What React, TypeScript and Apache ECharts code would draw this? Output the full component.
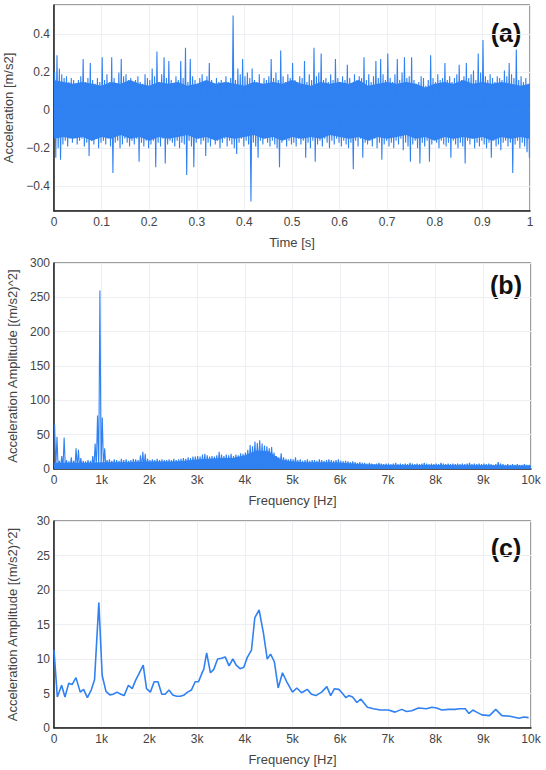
import React, { useEffect, useRef } from "react";
import * as echarts from "echarts";

// ---------- Panel (a): time signal, peak envelope per 5 ms bin ----------
const timeBinWidth = 0.005;
const timeHigh = [
  0.2, 0.29, 0.22, 0.19, 0.17, 0.18, 0.15, 0.17, 0.16, 0.14,
  0.16, 0.18, 0.27, 0.15, 0.17, 0.25, 0.16, 0.14, 0.17, 0.15,
  0.28, 0.16, 0.19, 0.15, 0.28, 0.17, 0.14, 0.2, 0.27, 0.18,
  0.19, 0.16, 0.17, 0.13, 0.16, 0.18, 0.15, 0.14, 0.19, 0.17,
  0.16, 0.22, 0.18, 0.31, 0.15, 0.19, 0.28, 0.17, 0.26, 0.16,
  0.14, 0.18, 0.16, 0.26, 0.17, 0.33, 0.15, 0.27, 0.18, 0.16,
  0.14, 0.17, 0.19, 0.15, 0.18, 0.25, 0.16, 0.14, 0.17, 0.15,
  0.16, 0.13, 0.18, 0.15, 0.17, 0.5, 0.16, 0.22, 0.19, 0.27,
  0.18, 0.2, 0.17, 0.22, 0.16, 0.15, 0.19, 0.14, 0.17, 0.16,
  0.18, 0.27, 0.17, 0.2, 0.16, 0.315, 0.18, 0.15, 0.19, 0.17,
  0.25, 0.16, 0.14, 0.18, 0.17, 0.26, 0.15, 0.19, 0.16, 0.33,
  0.18, 0.2, 0.3, 0.16, 0.17, 0.15, 0.19, 0.16, 0.27, 0.17,
  0.15, 0.18, 0.16, 0.24, 0.17, 0.14, 0.19, 0.16, 0.18, 0.17,
  0.28, 0.16, 0.19, 0.15, 0.18, 0.26, 0.17, 0.27, 0.19, 0.16,
  0.3, 0.17, 0.15, 0.19, 0.27, 0.16, 0.2, 0.28, 0.17, 0.18,
  0.28, 0.16, 0.14, 0.15, 0.18, 0.17, 0.13, 0.16, 0.29, 0.17,
  0.15, 0.19, 0.16, 0.17, 0.25, 0.16, 0.18, 0.15, 0.17, 0.19,
  0.24, 0.16, 0.18, 0.25, 0.17, 0.19, 0.21, 0.16, 0.3, 0.2,
  0.37, 0.18, 0.16, 0.19, 0.17, 0.15, 0.18, 0.17, 0.16, 0.21,
  0.18, 0.25, 0.19, 0.17, 0.32, 0.16, 0.18, 0.15, 0.17, 0.14,
];
const timeLow = [
  -0.25, -0.2, -0.26, -0.18, -0.16, -0.19, -0.15, -0.17, -0.14, -0.18,
  -0.16, -0.15, -0.19, -0.17, -0.24, -0.16, -0.18, -0.15, -0.2, -0.17,
  -0.16, -0.18, -0.15, -0.19, -0.33, -0.17, -0.16, -0.2, -0.18, -0.15,
  -0.17, -0.19, -0.16, -0.18, -0.15, -0.27, -0.17, -0.19, -0.16, -0.2,
  -0.18, -0.16, -0.3, -0.17, -0.19, -0.15, -0.28, -0.18, -0.16, -0.17,
  -0.19, -0.16, -0.2, -0.17, -0.18, -0.34, -0.16, -0.19, -0.3, -0.17,
  -0.15, -0.18, -0.16, -0.24, -0.17, -0.19, -0.15, -0.18, -0.16, -0.2,
  -0.17, -0.15, -0.19, -0.16, -0.18, -0.2, -0.23, -0.17, -0.15, -0.19,
  -0.16, -0.18, -0.48, -0.17, -0.19, -0.25, -0.16, -0.18, -0.15, -0.17,
  -0.19, -0.16, -0.18, -0.2, -0.3, -0.17, -0.15, -0.19, -0.16, -0.18,
  -0.17, -0.19, -0.15, -0.18, -0.16, -0.25, -0.17, -0.2, -0.16, -0.27,
  -0.18, -0.16, -0.19, -0.15, -0.17, -0.2, -0.16, -0.18, -0.15, -0.17,
  -0.19, -0.16, -0.18, -0.2, -0.17, -0.31, -0.16, -0.19, -0.15, -0.25,
  -0.17, -0.18, -0.16, -0.19, -0.15, -0.2, -0.17, -0.26, -0.18, -0.16,
  -0.19, -0.17, -0.2, -0.16, -0.18, -0.15, -0.21, -0.17, -0.19, -0.27,
  -0.18, -0.16, -0.2, -0.28, -0.17, -0.19, -0.16, -0.27, -0.18, -0.15,
  -0.17, -0.2, -0.16, -0.18, -0.19, -0.17, -0.25, -0.16, -0.18, -0.2,
  -0.17, -0.19, -0.28, -0.16, -0.18, -0.15, -0.2, -0.17, -0.19, -0.16,
  -0.18, -0.2, -0.17, -0.25, -0.16, -0.19, -0.18, -0.21, -0.17, -0.16,
  -0.19, -0.17, -0.33, -0.18, -0.16, -0.2, -0.17, -0.19, -0.22, -0.25,
];
// dense core of the signal, sampled every 20 ms (0 .. 1 s)
const timeCoreStep = 0.02;
const timeCoreHigh = [
  0.16, 0.15, 0.14, 0.15, 0.14, 0.13, 0.15, 0.14, 0.16, 0.14,
  0.13, 0.15, 0.14, 0.15, 0.13, 0.14, 0.16, 0.14, 0.15, 0.14,
  0.13, 0.15, 0.14, 0.15, 0.14, 0.16, 0.14, 0.13, 0.15, 0.14,
  0.15, 0.14, 0.16, 0.13, 0.14, 0.15, 0.14, 0.15, 0.14, 0.12,
  0.14, 0.15, 0.14, 0.16, 0.14, 0.15, 0.14, 0.15, 0.14, 0.13, 0.14,
];
const timeCoreLow = [
  -0.15, -0.14, -0.15, -0.14, -0.16, -0.14, -0.15, -0.13, -0.15, -0.14,
  -0.16, -0.14, -0.15, -0.14, -0.13, -0.15, -0.14, -0.16, -0.14, -0.15,
  -0.14, -0.13, -0.15, -0.14, -0.16, -0.14, -0.15, -0.14, -0.15, -0.13,
  -0.14, -0.15, -0.14, -0.16, -0.14, -0.15, -0.14, -0.13, -0.15, -0.14,
  -0.16, -0.14, -0.15, -0.14, -0.15, -0.14, -0.16, -0.14, -0.15, -0.14, -0.15,
];

// ---------- Panel (b): raw spectrum, peak per 50 Hz bin ----------
const specBinWidth = 50;
const specHigh = [
  65, 47, 12, 19, 46, 13, 11, 17, 12, 30,
  28, 16, 12, 11, 13, 12, 19, 37, 78, 260,
  75, 30, 13, 14, 12, 14, 13, 12, 15, 13,
  14, 12, 13, 15, 14, 13, 20, 25, 22, 15,
  13, 14, 13, 15, 13, 14, 13, 13, 14, 13,
  15, 13, 14, 15, 16, 15, 17, 16, 18, 18,
  19, 18, 21, 22, 20, 18, 19, 18, 20, 25,
  21, 19, 21, 20, 22, 19, 21, 20, 23, 22,
  24, 28, 35, 33, 40, 38, 42, 37, 34, 33,
  30, 32, 24, 19, 17, 23, 17, 15, 14, 15,
  14, 17, 13, 14, 12, 13, 14, 12, 13, 13,
  12, 14, 13, 12, 13, 14, 13, 12, 13, 14,
  12, 11, 12, 11, 10, 11, 10, 9, 10, 9,
  9, 8, 9, 8, 7, 8, 9, 8, 7, 8,
  8, 7, 8, 9, 7, 8, 7, 8, 7, 9,
  8, 7, 8, 7, 8, 9, 8, 7, 8, 7,
  8, 7, 9, 8, 7, 8, 7, 8, 7, 8,
  7, 8, 7, 8, 9, 7, 8, 7, 8, 7,
  8, 7, 8, 7, 6, 7, 10, 8, 7, 6,
  7, 6, 7, 6, 7, 6, 6, 7, 6, 6,
];
// lower envelope, one value per 250 Hz
const specLowStep = 250;
const specLow = [
  0.5, 1, 1, 1.2, 1.5, 1.2, 1, 1.2, 1, 1.3,
  1.2, 1.5, 1.5, 1.8, 1.6, 2, 2.5, 4, 3.5, 2,
  1.5, 1.5, 1.2, 1.2, 1, 1, 0.9, 0.9, 0.8, 0.8,
  0.8, 0.8, 0.8, 0.8, 0.8, 0.8, 0.8, 0.8, 0.8, 0.8,
];
// dense core of the spectrum, sampled every 250 Hz (0 .. 10 kHz)
const specCore = [
  9, 9, 9, 9, 10, 10, 10, 10.5, 11, 11,
  11, 12, 14, 15, 16, 16, 20, 27, 26, 14,
  11, 10, 10, 10, 9, 8, 7, 6.5, 6, 6,
  6, 6, 6, 6, 5.5, 5.5, 5.5, 5.5, 5, 5, 5,
];

// ---------- Panel (c): averaged spectrum ----------
const avgFreq = [
  0, 70, 160, 230, 310, 380, 460, 550, 620, 700,
  780, 850, 940, 1010, 1090, 1170, 1240, 1320, 1400, 1470,
  1560, 1640, 1710, 1790, 1870, 1940, 2020, 2100, 2180, 2260,
  2330, 2410, 2490, 2570, 2650, 2730, 2800, 2880, 2960, 3030,
  3110, 3140, 3200, 3280, 3350, 3430, 3510, 3590, 3670, 3750,
  3820, 3900, 3980, 4050, 4140, 4210, 4300, 4390, 4470, 4540,
  4620, 4700, 4790, 4880, 5000, 5090, 5190, 5310, 5400, 5490,
  5610, 5720, 5800, 5880, 5970, 6050, 6120, 6180, 6260, 6350,
  6430, 6570, 6700, 6840, 7010, 7150, 7290, 7390, 7500, 7640,
  7810, 7920, 8020, 8130, 8270, 8410, 8500, 8620, 8700, 8780,
  8860, 8970, 9130, 9260, 9390, 9560, 9750, 9850, 9950,
];
const avgAmp = [
  11.3, 4.5, 6.2, 4.5, 6.5, 6.3, 7.3, 5.2, 5.6, 4.4,
  5.5, 7.0, 18.2, 7.6, 5.3, 4.8, 4.9, 5.2, 4.9, 4.7,
  6.2, 5.7, 6.9, 8.0, 9.1, 5.7, 5.2, 6.7, 6.7, 4.9,
  4.9, 5.5, 4.8, 4.6, 4.6, 4.8, 5.2, 5.5, 6.7, 6.7,
  8.1, 8.5, 10.9, 8.0, 8.5, 10.0, 10.1, 10.3, 9.0, 10.0,
  9.1, 8.6, 8.8, 10.2, 11.3, 16.0, 17.1, 13.8, 10.0, 10.7,
  9.6, 5.8, 8.0, 6.7, 5.2, 5.8, 5.1, 5.6, 4.9, 4.7,
  5.2, 6.0, 4.7, 5.7, 5.6, 5.0, 4.4, 4.7, 4.5, 3.7,
  4.2, 3.0, 2.8, 2.6, 2.6, 2.3, 2.7, 2.4, 2.5, 2.9,
  2.8, 3.0, 2.9, 2.6, 2.7, 2.7, 2.8, 2.8, 2.1, 2.6,
  2.3, 1.9, 1.8, 2.7, 1.8, 1.7, 1.4, 1.6, 1.5,
];

// ---------- tick labels ----------
const timeTickLabels = ["0", "0.1", "0.2", "0.3", "0.4", "0.5", "0.6", "0.7", "0.8", "0.9", "1"];
const freqTickLabels = ["0", "1k", "2k", "3k", "4k", "5k", "6k", "7k", "8k", "9k", "10k"];
const panelTags = ["(a)", "(b)", "(c)"];

const BLUE = "#3081f2";
const FONT = "'Liberation Sans', Arial, Helvetica, sans-serif";
const TICK_COLOR = "#444";

function minusFmt(v: number): string {
  if (Math.abs(v) < 1e-9) return "0";
  const s = String(Math.round(v * 1000) / 1000);
  return s.replace("-", "\u2212");
}

export default function App() {
  const ref = useRef<HTMLDivElement>(null);

  useEffect(() => {
    if (!ref.current) return;
    const chart = echarts.init(ref.current, undefined, { renderer: "svg" });

    const aData: number[][] = [];
    timeHigh.forEach((h, i) => {
      aData.push([i * timeBinWidth + timeBinWidth * 0.25, h]);
      aData.push([i * timeBinWidth + timeBinWidth * 0.75, timeLow[i]]);
    });
    const aCoreHigh = timeCoreHigh.map((v, i) => [i * timeCoreStep, v]);
    const aCoreLow = timeCoreLow.map((v, i) => [i * timeCoreStep, v]);

    const bData: number[][] = [];
    specHigh.forEach((h, i) => {
      const f0 = i * specBinWidth;
      bData.push([f0 + specBinWidth * 0.25, h]);
      bData.push([f0 + specBinWidth * 0.75, specLow[Math.floor(f0 / specLowStep)]]);
    });
    const bCore = specCore.map((v, i) => [i * specLowStep, v]);
    const cData = avgFreq.map((f, i) => [f, avgAmp[i]]);

    const gridBase = {
      show: true,
      borderColor: "#3c3c3c",
      borderWidth: 1,
      backgroundColor: "#fff",
      containLabel: false,
      outerBoundsMode: "none",
    };
    const splitLine = { show: true, lineStyle: { color: "#eceef2", width: 1 } };
    const axisLine = { show: true, onZero: false, lineStyle: { color: "#222", width: 1.5 } };
    const nameStyle = { color: TICK_COLOR, fontSize: 13, fontFamily: FONT };
    const labelBase = { color: TICK_COLOR, fontSize: 12, fontFamily: FONT };

    const xCommon = (idx: number, name: string, max: number, interval: number, labels: string[]) => ({
      type: "value",
      gridIndex: idx,
      min: 0,
      max,
      interval,
      name,
      nameLocation: "middle",
      nameGap: 25,
      nameTextStyle: nameStyle,
      axisLine,
      axisTick: { show: false },
      splitLine,
      axisLabel: {
        ...labelBase,
        margin: 5,
        formatter: (v: number) => labels[Math.round(v / interval)] ?? "",
      },
    });

    const yCommon = (idx: number, name: string, extra: any) => ({
      type: "value",
      gridIndex: idx,
      name,
      nameLocation: "middle",
      nameGap: 35,
      nameTextStyle: nameStyle,
      axisLine,
      axisTick: { show: false },
      splitLine,
      axisLabel: { ...labelBase, margin: 4, formatter: minusFmt },
      ...extra,
    });

    const lineSeries = (xi: number, data: number[][], width: number) => ({
      type: "line",
      xAxisIndex: xi,
      yAxisIndex: xi,
      data,
      showSymbol: false,
      symbol: "none",
      silent: true,
      lineStyle: { color: BLUE, width },
    });
    const areaSeries = (xi: number, data: number[][]) => ({
      type: "line",
      xAxisIndex: xi,
      yAxisIndex: xi,
      data,
      showSymbol: false,
      symbol: "none",
      silent: true,
      lineStyle: { width: 0, color: BLUE },
      areaStyle: { color: BLUE, opacity: 1 },
    });

    const option: any = {
      animation: false,
      backgroundColor: "#fff",
      grid: [
        { ...gridBase, left: 54, top: 5, width: 476, height: 206 },
        { ...gridBase, left: 54, top: 263, width: 477, height: 206 },
        { ...gridBase, left: 54, top: 521, width: 477, height: 207 },
      ],
      xAxis: [
        xCommon(0, "Time [s]", 1, 0.1, timeTickLabels),
        xCommon(1, "Frequency [Hz]", 10000, 1000, freqTickLabels),
        xCommon(2, "Frequency [Hz]", 10000, 1000, freqTickLabels),
      ],
      yAxis: [
        yCommon(0, "Acceleration [m/s2]", {
          min: -0.53,
          max: 0.555,
          splitNumber: 5,
          axisLabel: { ...labelBase, margin: 4, formatter: minusFmt, showMinLabel: false, showMaxLabel: false },
        }),
        yCommon(1, "Acceleration Amplitude [(m/s2)^2]", { min: 0, max: 300, interval: 50 }),
        yCommon(2, "Acceleration Amplitude [(m/s2)^2]", { min: 0, max: 30, interval: 5 }),
      ],
      series: [
        areaSeries(0, aCoreHigh),
        areaSeries(0, aCoreLow),
        lineSeries(0, aData, 1.1),
        areaSeries(1, bCore),
        lineSeries(1, bData, 1.1),
        lineSeries(2, cData, 1.6),
      ],
      graphic: panelTags.map((t, i) => ({
        type: "text",
        x: 506,
        y: [33, 285, 548][i],
        style: {
          text: t,
          fontSize: 25,
          fontWeight: "bold",
          fontFamily: FONT,
          fill: "#111",
          textAlign: "center",
          textVerticalAlign: "middle",
        },
      })),
    };

    chart.setOption(option);
    return () => chart.dispose();
  }, []);

  return (
    <div
      ref={ref}
      style={{ position: "fixed", left: 0, top: 0, width: 546, height: 770, background: "#fff" }}
    />
  );
}
